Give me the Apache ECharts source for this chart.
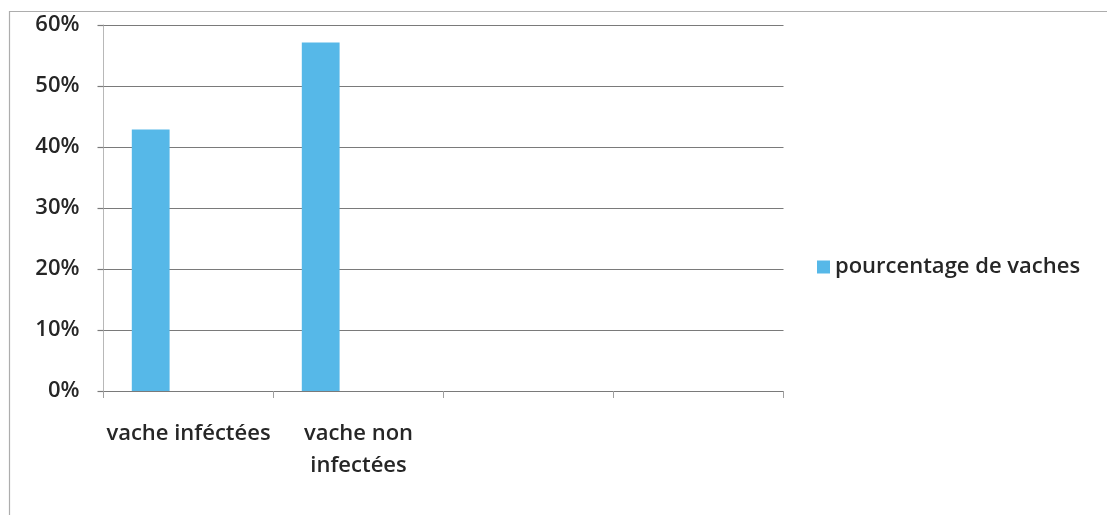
<!DOCTYPE html>
<html>
<head>
<meta charset="utf-8">
<script src="https://cdn.jsdelivr.net/npm/echarts@6/dist/echarts.min.js"></script>
<style>
  html, body { margin: 0; padding: 0; background: #ffffff; }
  #chart { width: 1107px; height: 515px; }
</style>
</head>
<body>
<div id="chart"></div>
<script>
// Categories on the x axis (the last two slots are empty)
const categories = ['vache inféctées', 'vache non\ninfectées', '', ''];
// Share of cows per group (3/7 and 4/7)
const pourcentage = [0.4286, 0.5714, null, null];
// Two further series of the workbook carry no value
const serie2 = [0, 0, null, null];
const serie3 = [0, 0, null, null];
const seriesName = 'pourcentage de vaches';
const yTicks = { min: 0, max: 0.6, interval: 0.1 };

const FONT = 'Open Sans';
const TEXT = { fontFamily: FONT, fontSize: 22, fontWeight: 600, color: '#262626' };
const chart = echarts.init(document.getElementById('chart'), null, { renderer: 'canvas' });

chart.setOption({
  animation: false,
  backgroundColor: '#ffffff',
  textStyle: { fontFamily: FONT },
  graphic: [{
    type: 'rect',
    left: 7, top: 9,
    shape: { width: 1200, height: 600 },
    style: { fill: 'none', stroke: '#adadad', lineWidth: 1.2 },
    silent: true
  }],
  grid: { left: 103.5, right: 323.5, top: 25, bottom: 124, containLabel: false },
  legend: {
    data: [seriesName],
    left: 812, top: 251,
    itemWidth: 13, itemHeight: 13, itemGap: 10,
    icon: 'rect',
    textStyle: Object.assign({}, TEXT)
  },
  xAxis: {
    type: 'category',
    data: categories,
    axisLine: { lineStyle: { color: '#7a7a7a', width: 1.2 } },
    axisTick: { show: true, length: 7, lineStyle: { color: '#a0a0a0' } },
    axisLabel: Object.assign({ interval: 0, margin: 27, lineHeight: 32 }, TEXT)
  },
  yAxis: {
    type: 'value',
    min: yTicks.min, max: yTicks.max, interval: yTicks.interval,
    axisLine: { show: true, lineStyle: { color: '#b8b8b8', width: 1 } },
    axisTick: { show: true, length: 6, lineStyle: { color: '#7a7a7a', width: 1.2 } },
    axisLabel: Object.assign({
      margin: 24,
      formatter: v => Math.round(v * 100) + '%'
    }, TEXT),
    splitLine: { show: true, lineStyle: { color: '#7a7a7a', width: 1.2 } }
  },
  series: [
    {
      name: seriesName, type: 'bar', data: pourcentage,
      barWidth: 37.8, barGap: '0%',
      itemStyle: { color: '#56b8e8' }
    },
    {
      name: 'serie 2', type: 'bar', data: serie2,
      barWidth: 37.8, barGap: '0%',
      itemStyle: { color: '#f08a3c' }
    },
    {
      name: 'serie 3', type: 'bar', data: serie3,
      barWidth: 37.8, barGap: '0%',
      itemStyle: { color: '#a5a5a5' }
    }
  ]
});
</script>
</body>
</html>
